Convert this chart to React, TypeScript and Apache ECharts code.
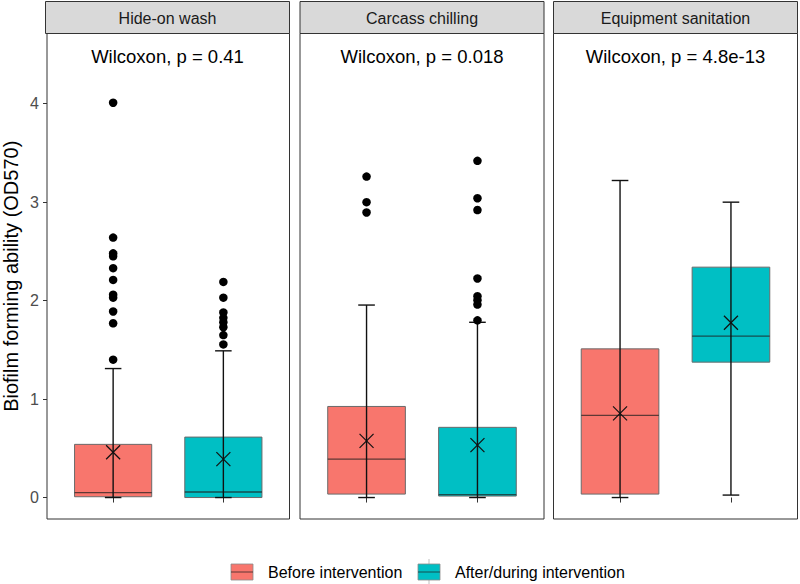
import React, { useEffect, useRef } from "react";
import * as echarts from "echarts";

// ---------- data ----------
const panels = ["Hide-on wash", "Carcass chilling", "Equipment sanitation"];
const groups = ["Before intervention", "After/during intervention"];
const pLabels = ["Wilcoxon, p = 0.41", "Wilcoxon, p = 0.018", "Wilcoxon, p = 4.8e-13"];
// [whisker min, Q1, median, Q3, whisker max] per panel
const beforeBox = [
  [0.0, 0.008, 0.05, 0.54, 1.31],
  [0.0, 0.035, 0.39, 0.925, 1.955],
  [0.0, 0.035, 0.835, 1.51, 3.22],
];
const afterBox = [
  [0.0, 0.0, 0.056, 0.614, 1.49],
  [0.0, 0.015, 0.03, 0.713, 1.78],
  [0.025, 1.375, 1.64, 2.34, 3.0],
];
const beforeMean = [0.46, 0.575, 0.855];
const afterMean = [0.39, 0.533, 1.775];
const beforeOutliers = [
  [1.4, 1.77, 1.89, 2.03, 2.06, 2.21, 2.33, 2.45, 2.48, 2.64, 4.01],
  [2.895, 3.0, 3.26],
  [],
];
const afterOutliers = [
  [1.555, 1.65, 1.73, 1.78, 1.825, 1.88, 2.03, 2.19],
  [1.8, 1.96, 2.005, 2.045, 2.225, 2.92, 3.04, 3.42],
  [],
];
const yTicks = [0, 1, 2, 3, 4];
const xPositions = [1, 2];
const yTitle = "Biofilm forming ability (OD570)";

// ---------- style ----------
const COLORS = ["#F8766D", "#00BFC4"];
const FONT = "'Liberation Sans', Arial, Helvetica, sans-serif";
const PANEL_LEFT = [45.5, 300, 553.5];
const PANEL_W = 244;
const PANEL_TOP = 33.5;
const PANEL_BOTTOM = 519;
const STRIP_TOP = 1.5;
const Y_MIN = -0.218;
const Y_MAX = 4.713;
const BOX_HALF = 0.35;
const CAP_HALF = 0.075;

function makeRender(color: string) {
  return function (params: any, api: any) {
    const x = api.value(0);
    const lo = api.value(1);
    const q1 = api.value(2);
    const med = api.value(3);
    const q3 = api.value(4);
    const hi = api.value(5);
    const mean = api.value(6);
    const tl = api.coord([x - BOX_HALF, q3]);
    const br = api.coord([x + BOX_HALF, q1]);
    const ml = api.coord([x - BOX_HALF, med]);
    const mr = api.coord([x + BOX_HALF, med]);
    const top = api.coord([x, hi]);
    const bot = api.coord([x, lo]);
    const capL = api.coord([x - CAP_HALF, hi]);
    const capR = api.coord([x + CAP_HALF, hi]);
    const capL2 = api.coord([x - CAP_HALF, lo]);
    const capR2 = api.coord([x + CAP_HALF, lo]);
    const m = api.coord([x, mean]);
    const d = 7;
    const ws = { stroke: "#111", lineWidth: 1.4 };
    return {
      type: "group",
      children: [
        {
          type: "rect",
          shape: { x: tl[0], y: tl[1], width: br[0] - tl[0], height: br[1] - tl[1] },
          style: { fill: color, stroke: "#6a6a6a", lineWidth: 1 },
        },
        {
          type: "line",
          shape: { x1: ml[0], y1: ml[1], x2: mr[0], y2: mr[1] },
          style: { stroke: "rgba(30,30,30,0.7)", lineWidth: 1.3 },
        },
        { type: "line", shape: { x1: top[0], y1: top[1], x2: bot[0], y2: bot[1] }, style: ws },
        { type: "line", shape: { x1: capL[0], y1: capL[1], x2: capR[0], y2: capR[1] }, style: ws },
        { type: "line", shape: { x1: capL2[0], y1: capL2[1], x2: capR2[0], y2: capR2[1] }, style: ws },
        { type: "line", shape: { x1: m[0] - d, y1: m[1] - d, x2: m[0] + d, y2: m[1] + d }, style: { stroke: "#111", lineWidth: 1.2 } },
        { type: "line", shape: { x1: m[0] - d, y1: m[1] + d, x2: m[0] + d, y2: m[1] - d }, style: { stroke: "#111", lineWidth: 1.2 } },
      ],
    };
  };
}

function buildOption() {
  const grids: any[] = [];
  const xAxes: any[] = [];
  const yAxes: any[] = [];
  const series: any[] = [];
  const graphics: any[] = [];

  panels.forEach((panel, i) => {
    grids.push({
      left: PANEL_LEFT[i],
      top: PANEL_TOP,
      width: PANEL_W,
      height: PANEL_BOTTOM - PANEL_TOP,
      show: true,
      borderColor: "#333333",
      borderWidth: 1,
      backgroundColor: "#ffffff",
      containLabel: false,
    });
    xAxes.push({
      type: "value",
      gridIndex: i,
      min: 0.4,
      max: 2.6,
      axisLine: { show: false },
      splitLine: { show: false },
      axisLabel: { show: false, customValues: xPositions },
      axisTick: { show: true, customValues: xPositions, length: 5, lineStyle: { color: "#333333", width: 1 } },
    });
    yAxes.push({
      type: "value",
      gridIndex: i,
      min: Y_MIN,
      max: Y_MAX,
      name: i === 0 ? yTitle : "",
      nameLocation: "middle",
      nameGap: 26,
      nameTextStyle: { fontSize: 20, color: "#000", fontFamily: FONT },
      axisLine: { show: false },
      splitLine: { show: false },
      axisLabel: {
        show: i === 0,
        customValues: yTicks,
        fontSize: 16,
        color: "#4d4d4d",
        fontFamily: FONT,
        margin: 8,
      },
      axisTick: {
        show: i === 0,
        customValues: yTicks,
        length: 4,
        lineStyle: { color: "#333333", width: 1 },
      },
    });

    const boxes = [beforeBox[i], afterBox[i]];
    const means = [beforeMean[i], afterMean[i]];
    const outs = [beforeOutliers[i], afterOutliers[i]];
    groups.forEach((g, k) => {
      series.push({
        type: "custom",
        name: g,
        xAxisIndex: i,
        yAxisIndex: i,
        renderItem: makeRender(COLORS[k]),
        encode: { x: 0, y: [1, 2, 3, 4, 5] },
        data: [[xPositions[k], ...boxes[k], means[k]]],
        z: 3,
      });
      series.push({
        type: "scatter",
        name: g + " outliers",
        xAxisIndex: i,
        yAxisIndex: i,
        symbol: "circle",
        symbolSize: 8.5,
        itemStyle: { color: "#000", opacity: 1 },
        data: outs[k].map((v) => [xPositions[k], v]),
        z: 4,
      });
    });

    // strip header
    graphics.push({
      type: "rect",
      shape: { x: PANEL_LEFT[i], y: STRIP_TOP, width: PANEL_W, height: PANEL_TOP - STRIP_TOP },
      style: { fill: "#d9d9d9", stroke: "#333333", lineWidth: 1 },
    });
    graphics.push({
      type: "text",
      x: PANEL_LEFT[i] + PANEL_W / 2,
      y: 18,
      style: { text: panel, fill: "#1a1a1a", font: `16px ${FONT}`, align: "center", verticalAlign: "middle" },
    });
    graphics.push({
      type: "text",
      x: PANEL_LEFT[i] + PANEL_W / 2,
      y: 56,
      style: { text: pLabels[i], fill: "#000", font: `18.5px ${FONT}`, align: "center", verticalAlign: "middle" },
      z: 10,
    });
  });

  // legend
  const keyX = [231, 418];
  const textX = [268, 455];
  const keyY = 564;
  const keyW = 22;
  const keyH = 16;
  groups.forEach((g, k) => {
    if (k === 1) {
      graphics.push({
        type: "line",
        shape: { x1: keyX[k] + keyW / 2, y1: keyY - 5, x2: keyX[k] + keyW / 2, y2: keyY + keyH + 4 },
        style: { stroke: "rgba(0,0,0,0.25)", lineWidth: 1 },
      });
    }
    graphics.push({
      type: "rect",
      shape: { x: keyX[k], y: keyY, width: keyW, height: keyH },
      style: { fill: COLORS[k], stroke: "#8a8a8a", lineWidth: 0.8 },
    });
    graphics.push({
      type: "line",
      shape: { x1: keyX[k], y1: keyY + keyH / 2, x2: keyX[k] + keyW, y2: keyY + keyH / 2 },
      style: { stroke: "rgba(30,30,30,0.7)", lineWidth: 1 },
    });
    graphics.push({
      type: "text",
      x: textX[k],
      y: 572,
      style: { text: g, fill: "#000", font: `16px ${FONT}`, align: "left", verticalAlign: "middle" },
    });
  });

  return {
    animation: false,
    backgroundColor: "#ffffff",
    textStyle: { fontFamily: FONT },
    grid: grids,
    xAxis: xAxes,
    yAxis: yAxes,
    series,
    graphic: graphics,
  };
}

export default function App() {
  const ref = useRef<HTMLDivElement>(null);
  useEffect(() => {
    if (!ref.current) return;
    const chart = echarts.init(ref.current, null, { renderer: "svg" });
    chart.setOption(buildOption() as any);
    return () => chart.dispose();
  }, []);
  return (
    <div
      ref={ref}
      style={{ position: "fixed", left: 0, top: 0, width: 800, height: 584, background: "#fff" }}
    />
  );
}
